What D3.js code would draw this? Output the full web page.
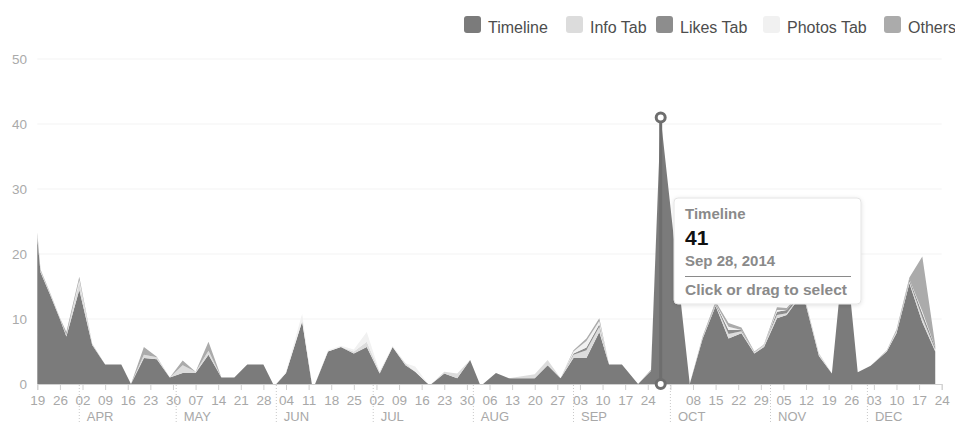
<!DOCTYPE html>
<html>
<head>
<meta charset="utf-8">
<script src="https://cdn.jsdelivr.net/npm/d3@7"></script>
<style>
  body { margin: 0; background: #fff; }
  svg { display: block; font-family: "Liberation Sans", Arial, Helvetica, sans-serif; }
</style>
</head>
<body>
<svg id="chart" width="955" height="424"></svg>
<script>
// Page tab views, 2014
const dates = [
  "2014-03-19","2014-03-20","2014-03-23","2014-03-26","2014-03-28","2014-04-01","2014-04-05","2014-04-09",
  "2014-04-14","2014-04-17","2014-04-21","2014-04-25","2014-04-29","2014-05-03","2014-05-07","2014-05-11",
  "2014-05-15","2014-05-19","2014-05-23","2014-05-28","2014-05-31","2014-06-01","2014-06-04","2014-06-09",
  "2014-06-12","2014-06-13","2014-06-17","2014-06-21","2014-06-25","2014-06-29","2014-07-03","2014-07-07",
  "2014-07-11","2014-07-14","2014-07-18","2014-07-19","2014-07-23","2014-07-27","2014-07-31","2014-08-03",
  "2014-08-04","2014-08-08","2014-08-12","2014-08-20","2014-08-24","2014-08-28","2014-09-01","2014-09-05",
  "2014-09-09","2014-09-12","2014-09-16","2014-09-21","2014-09-25","2014-09-28","2014-10-07","2014-10-11",
  "2014-10-15","2014-10-19","2014-10-23","2014-10-27","2014-10-30","2014-11-03","2014-11-06","2014-11-11",
  "2014-11-16","2014-11-20","2014-11-24","2014-11-28","2014-12-02","2014-12-07","2014-12-10","2014-12-14",
  "2014-12-18","2014-12-22"
];
const timeline = [
  22.5,17.2,13.7,10,7.3,14.5,6,3,
  3,0,4,3.8,1,1.7,1.7,4.5,
  1,1,3,3,0,0,1.7,9.6,
  0,0,5,5.7,4.7,5.7,1.6,5.7,
  2.9,1.9,0,0,1.6,0.9,3.7,0,
  0,1.7,0.9,0.9,2.9,0.9,4,4,
  8,3,3,0,2,41,0,7,
  12,7,7.8,4.7,5.7,10.1,10.6,14,
  4.3,1.6,22,1.8,2.8,5,7.8,15.5,
  9.5,5
];
const infoTab = [
  0.3,0.2,0.2,0.1,0.2,1.2,0.1,0,
  0,0,0.5,0.3,0,1.2,0.2,0.6,
  0,0,0,0,0,0,0,0,
  0,0,0,0,0.3,0.8,0.3,0,
  0.3,0,0,0,0.3,0.7,0,0,
  0,0,0,0.6,0.8,0,0.5,1.2,
  0.8,0,0,0,0,0,0,0.2,
  0.2,0.7,0.3,0.2,0.3,0.5,0.3,0.2,
  0.3,0,0,0,0,0.1,0.3,0.3,
  0.7,0.3
];
const likesTab = [
  0,0,0,0,0,0,0,0,
  0,0,0,0,0,0,0,0,
  0,0,0,0,0,0,0,0,
  0,0,0,0,0,0,0,0,
  0,0,0,0,0,0,0,0,
  0,0,0,0,0,0,0.2,0.4,
  0.4,0,0,0,0,0,0,0,
  0.2,0.6,0.2,0,0,0.5,0.5,0,
  0,0,0,0,0,0,0,0.3,
  0.7,0.3
];
const photosTab = [
  0,0,0,0,0,0.3,0,0,
  0,0,0,0,0,0,0,0,
  0,0,0,0,0,0,0.2,1.2,
  0,0,0.2,0.2,0.3,1.5,0,0.2,
  0,0.8,0,0,0,0,0,0,
  0,0,0,0,0,0,0.3,1,
  0.5,0,0,0,0,0,0,0,
  0,0.5,0,0,0,0.3,0,0,
  0,0,0,0,0,0,0,0,
  0.3,0
];
const others = [
  0.5,0.2,0.1,0.1,0.5,0.5,0.1,0,
  0,0,1.2,0.1,0,0.7,0,1.4,
  0,0,0,0,0,0,0,0,
  0,0,0,0,0,0,0,0,
  0,0,0,0,0,0,0,0,
  0,0,0,0,0,0,0.2,0.4,
  0.4,0,0,0,0.2,0,0,0.2,
  0.3,0.6,0.4,0.1,0.1,0.4,0.3,0.2,
  0.1,0,0,0,0,0.1,0.3,0.3,
  8.4,0.4
];
const seriesNames = ["Timeline", "Info Tab", "Likes Tab", "Photos Tab", "Others"];
const seriesColors = ["#7b7b7b", "#dcdcdc", "#8d8d8d", "#f1f1f1", "#ababab"];
const yTicks = [0, 10, 20, 30, 40, 50];
const focusDate = "2014-09-28";
const focusSeries = "Timeline";
const domainStart = "2014-03-19";
const domainEnd = "2014-12-24";

const parse = d3.utcParse("%Y-%m-%d");
const columns = [timeline, infoTab, likesTab, photosTab, others];
const rows = dates.map((d, i) => {
  const r = { date: parse(d) };
  seriesNames.forEach((name, k) => { r[name] = columns[k][i]; });
  return r;
});

const svg = d3.select("#chart");
const x = d3.scaleUtc().domain([parse(domainStart), parse(domainEnd)]).range([37.3, 941.7]);
const y = d3.scaleLinear().domain([0, 50]).range([384, 59]);

// faint horizontal grid
svg.append("g").selectAll("line")
  .data(yTicks.filter(t => t > 0))
  .join("line")
  .attr("x1", x.range()[0]).attr("x2", x.range()[1])
  .attr("y1", d => y(d)).attr("y2", d => y(d))
  .attr("stroke", "#f3f3f3").attr("stroke-width", 1);

// y labels
svg.append("g").selectAll("text")
  .data(yTicks)
  .join("text")
  .attr("x", 27).attr("y", d => y(d)).attr("dy", "0.35em")
  .attr("text-anchor", "end")
  .attr("font-size", 13.5).attr("fill", "#aaa")
  .text(d => d);

// stacked areas
const stack = d3.stack().keys(seriesNames);
const layers = stack(rows);
const area = d3.area()
  .x(d => x(d.data.date))
  .y0(d => y(d[0]))
  .y1(d => y(d[1]))
  .curve(d3.curveLinear);
svg.append("g").selectAll("path")
  .data(layers)
  .join("path")
  .attr("d", area)
  .attr("fill", (d, i) => seriesColors[i]);

// x axis: weekly ticks on Wednesdays
const weeks = d3.utcWednesday.range(x.domain()[0], d3.utcDay.offset(x.domain()[1], 1));
const dayFmt = d3.utcFormat("%d");
const xAxis = d3.axisBottom(x)
  .tickValues(weeks)
  .tickSize(6)
  .tickPadding(5)
  .tickFormat(d => (d.getUTCDate() === 1 ? "" : dayFmt(d)));
const gx = svg.append("g").attr("transform", "translate(0,384)").call(xAxis);
gx.select(".domain").attr("stroke", "#d0d0d0");
gx.selectAll(".tick line").attr("stroke", "#d0d0d0");
gx.selectAll(".tick text")
  .attr("fill", "#a8a8a8")
  .attr("font-size", 13.5)
  .attr("font-family", "\"Liberation Sans\", Arial, sans-serif");

// month separators and labels
const months = d3.utcMonth.range(d3.utcMonth.ceil(x.domain()[0]), x.domain()[1]);
const monthFmt = d3.utcFormat("%b");
const gm = svg.append("g");
gm.selectAll("line")
  .data(months)
  .join("line")
  .attr("x1", d => x(d)).attr("x2", d => x(d))
  .attr("y1", 385).attr("y2", 424)
  .attr("stroke", "#c8c8c8")
  .attr("stroke-dasharray", "1,2");
gm.selectAll("text")
  .data(months)
  .join("text")
  .attr("x", d => x(d) + 7.5)
  .attr("y", 421)
  .attr("font-size", 13)
  .attr("fill", "#a8a8a8")
  .text(d => monthFmt(d).toUpperCase());

// legend
const legendSwatchX = [464, 566, 656, 763, 884];
const legend = svg.append("g");
seriesNames.forEach((name, i) => {
  legend.append("rect")
    .attr("x", legendSwatchX[i]).attr("y", 16)
    .attr("width", 17).attr("height", 17).attr("rx", 3)
    .attr("fill", seriesColors[i]);
  legend.append("text")
    .attr("x", legendSwatchX[i] + 24).attr("y", 32.5)
    .attr("font-size", 16).attr("fill", "#4d4d4d")
    .text(name);
});

// focus marker on the selected day
const focusRow = rows.find(r => +r.date === +parse(focusDate));
const fx = x(focusRow.date);
const fv = focusRow[focusSeries];
const focus = svg.append("g");
focus.append("line")
  .attr("x1", fx).attr("x2", fx)
  .attr("y1", y(fv)).attr("y2", y(0))
  .attr("stroke", "#6e6e6e").attr("stroke-width", 3);
[fv, 0].forEach(v => {
  focus.append("circle")
    .attr("cx", fx).attr("cy", y(v)).attr("r", 4.5)
    .attr("fill", "#fff").attr("stroke", "#6e6e6e").attr("stroke-width", 3);
});

// tooltip
const defs = svg.append("defs");
const f = defs.append("filter").attr("id", "tipShadow")
  .attr("x", "-10%").attr("y", "-10%").attr("width", "120%").attr("height", "130%");
f.append("feDropShadow").attr("dx", 0).attr("dy", 1).attr("stdDeviation", 2)
  .attr("flood-color", "#000").attr("flood-opacity", 0.12);

const tip = svg.append("g").attr("transform", "translate(674,198)");
tip.append("rect")
  .attr("width", 187).attr("height", 106).attr("rx", 4)
  .attr("fill", "#fff").attr("stroke", "#e4e4e4")
  .attr("filter", "url(#tipShadow)");
const tipFmt = d3.utcFormat("%b %d, %Y");
tip.append("text").attr("x", 11).attr("y", 21)
  .attr("font-size", 15).attr("font-weight", "bold").attr("fill", "#8a8a8a")
  .text(focusSeries);
tip.append("text").attr("x", 11).attr("y", 47)
  .attr("font-size", 21).attr("font-weight", "bold").attr("fill", "#111")
  .text(fv);
tip.append("text").attr("x", 11).attr("y", 68)
  .attr("font-size", 15).attr("font-weight", "bold").attr("fill", "#8a8a8a")
  .text(tipFmt(focusRow.date));
tip.append("line").attr("x1", 11).attr("x2", 177).attr("y1", 78.5).attr("y2", 78.5)
  .attr("stroke", "#8a8a8a").attr("stroke-width", 1);
tip.append("text").attr("x", 11).attr("y", 97)
  .attr("font-size", 15.5).attr("font-weight", "bold").attr("fill", "#8a8a8a")
  .text("Click or drag to select");
</script>
</body>
</html>
